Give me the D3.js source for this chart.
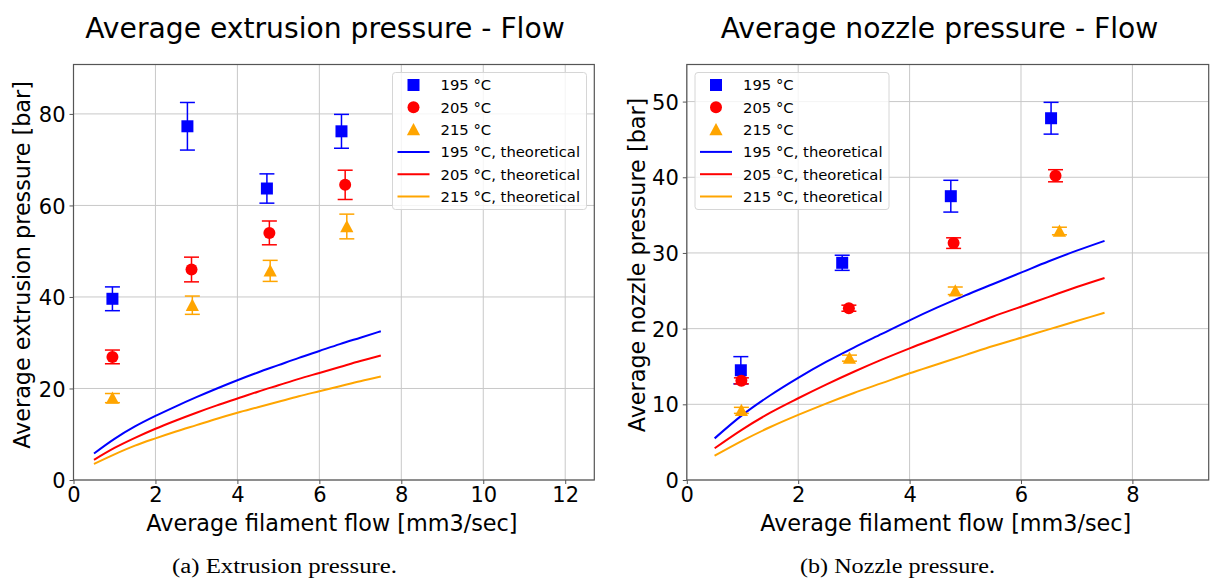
<!DOCTYPE html>
<html>
<head>
<meta charset="utf-8">
<script src="https://cdn.jsdelivr.net/npm/d3@7"></script>
<style>
  html, body { margin: 0; padding: 0; background: #fff; }
  svg { display: block; }
  text { fill: #000; }
</style>
</head>
<body>
<svg id="chart" width="1210" height="583"></svg>
<script>
// ---- measured data --------------------------------------------------------
const temps = ["195 °C", "205 °C", "215 °C"];
const colors = ["#0000ff", "#ff0000", "#ffa500"];
const shapes = ["square", "circle", "triangle"];

// Extrusion pressure (left panel)
const extFlow195 = [0.95, 2.78, 4.72, 6.54];
const extFlow205 = [0.95, 2.88, 4.78, 6.63];
const extFlow215 = [0.95, 2.90, 4.80, 6.67];
const extP195 = [39.6, 77.3, 63.7, 76.2];
const extP205 = [26.9, 46.0, 54.0, 64.5];
const extP215 = [17.9, 38.2, 45.7, 55.4];
const extErr195 = [2.6, 5.2, 3.2, 3.7];
const extErr205 = [1.5, 2.7, 2.6, 3.2];
const extErr215 = [1.0, 2.0, 2.3, 2.7];

// Nozzle pressure (right panel)
const nozFlow195 = [0.97, 2.79, 4.74, 6.54];
const nozFlow205 = [0.98, 2.91, 4.79, 6.62];
const nozFlow215 = [0.98, 2.92, 4.82, 6.69];
const nozP195 = [14.5, 28.7, 37.5, 47.8];
const nozP205 = [13.1, 22.7, 31.3, 40.2];
const nozP215 = [9.2, 16.1, 25.0, 32.9];
const nozErr195 = [1.8, 1.0, 2.1, 2.1];
const nozErr205 = [0.4, 0.4, 0.7, 0.8];
const nozErr215 = [0.4, 0.4, 0.5, 0.5];

// Theoretical curves, sampled flow values
const theoryFlow = [0.5, 1.0, 1.5, 2.0, 2.5, 3.0, 3.5, 4.0, 4.5, 5.0, 5.5, 6.0, 6.5, 7.0, 7.5];
const extTheory195 = [5.8, 9.0, 11.7, 14.0, 16.1, 18.1, 20.0, 21.8, 23.5, 25.1, 26.7, 28.2, 29.7, 31.1, 32.5];
const extTheory205 = [4.4, 7.0, 9.2, 11.2, 13.0, 14.7, 16.3, 17.8, 19.3, 20.7, 22.1, 23.4, 24.7, 26.0, 27.2];
const extTheory215 = [3.5, 5.6, 7.5, 9.1, 10.6, 12.0, 13.4, 14.7, 15.9, 17.1, 18.3, 19.4, 20.5, 21.6, 22.6];
const nozTheory195 = [5.5, 8.6, 11.2, 13.5, 15.6, 17.5, 19.3, 21.1, 22.8, 24.4, 25.9, 27.4, 28.9, 30.3, 31.6];
const nozTheory205 = [4.2, 6.7, 8.9, 10.8, 12.6, 14.3, 15.9, 17.4, 18.8, 20.2, 21.6, 22.9, 24.2, 25.5, 26.7];
const nozTheory215 = [3.2, 5.2, 7.0, 8.6, 10.1, 11.5, 12.8, 14.1, 15.3, 16.5, 17.7, 18.8, 19.9, 21.0, 22.1];

const extXTicks = [0, 2, 4, 6, 8, 10, 12];
const extYTicks = [0, 20, 40, 60, 80];
const nozXTicks = [0, 2, 4, 6, 8];
const nozYTicks = [0, 10, 20, 30, 40, 50];

// ---- drawing --------------------------------------------------------------
const SANS = "DejaVu Sans, sans-serif";
const svg = d3.select("#chart");

function markerPath(shape, size) {
  if (shape === "square") return d3.symbol(d3.symbolSquare, size * size)();
  if (shape === "circle") return d3.symbol(d3.symbolCircle, Math.PI * size * size / 4)();
  // triangle centred on its bounding box
  const h = size / 2;
  return `M0,${-h * 1.1}L${h * 1.1},${h * 0.95}L${-h * 1.1},${h * 0.95}Z`;
}

function drawPanel(cfg) {
  const g = svg.append("g");
  const x = d3.scaleLinear().domain(cfg.xDomain).range([cfg.left, cfg.right]);
  const y = d3.scaleLinear().domain(cfg.yDomain).range([cfg.bottom, cfg.top]);

  // grid
  g.append("g").selectAll("line").data(cfg.xTicks).join("line")
    .attr("x1", d => x(d)).attr("x2", d => x(d))
    .attr("y1", cfg.top).attr("y2", cfg.bottom)
    .attr("stroke", "#c8c8c8").attr("stroke-width", 1);
  g.append("g").selectAll("line").data(cfg.yTicks).join("line")
    .attr("x1", cfg.left).attr("x2", cfg.right)
    .attr("y1", d => y(d)).attr("y2", d => y(d))
    .attr("stroke", "#c8c8c8").attr("stroke-width", 1);

  // axes
  const xAxis = d3.axisBottom(x).tickValues(cfg.xTicks).tickSize(4).tickPadding(3).tickSizeOuter(0);
  const yAxis = d3.axisLeft(y).tickValues(cfg.yTicks).tickSize(4).tickPadding(4).tickSizeOuter(0);
  const gx = g.append("g").attr("transform", `translate(0,${cfg.bottom})`).call(xAxis);
  const gy = g.append("g").attr("transform", `translate(${cfg.left},0)`).call(yAxis);
  [gx, gy].forEach(a => {
    a.select(".domain").remove();
    a.selectAll("line").attr("stroke", "#555");
    a.attr("font-size", 21).attr("font-family", SANS);
    a.selectAll("text").attr("fill", "#000");
  });
  gx.selectAll("text").attr("dy", "0.71em");
  gy.selectAll("text").attr("dy", "0.36em");

  // theoretical curves
  const line = d3.line().x(d => x(d[0])).y(d => y(d[1])).curve(d3.curveMonotoneX);
  cfg.theory.forEach((vals, i) => {
    g.append("path")
      .datum(theoryFlow.map((f, j) => [f, vals[j]]))
      .attr("d", line).attr("fill", "none")
      .attr("stroke", colors[i]).attr("stroke-width", 2);
  });

  // measurements with error bars
  cfg.series.forEach((s, i) => {
    const pts = s.flow.map((f, j) => ({ f, p: s.p[j], e: s.err[j] }));
    const eg = g.append("g").attr("stroke", colors[i]).attr("stroke-width", 1.5);
    eg.selectAll("line.v").data(pts).join("line").attr("class", "v")
      .attr("x1", d => x(d.f)).attr("x2", d => x(d.f))
      .attr("y1", d => y(d.p - d.e)).attr("y2", d => y(d.p + d.e));
    eg.selectAll("line.t").data(pts).join("line").attr("class", "t")
      .attr("x1", d => x(d.f) - 7.5).attr("x2", d => x(d.f) + 7.5)
      .attr("y1", d => y(d.p + d.e)).attr("y2", d => y(d.p + d.e));
    eg.selectAll("line.b").data(pts).join("line").attr("class", "b")
      .attr("x1", d => x(d.f) - 7.5).attr("x2", d => x(d.f) + 7.5)
      .attr("y1", d => y(d.p - d.e)).attr("y2", d => y(d.p - d.e));
    g.append("g").selectAll("path").data(pts).join("path")
      .attr("d", markerPath(shapes[i], 12))
      .attr("transform", d => `translate(${x(d.f)},${y(d.p)})`)
      .attr("fill", colors[i]);
  });

  // frame
  g.append("rect")
    .attr("x", cfg.left).attr("y", cfg.top)
    .attr("width", cfg.right - cfg.left).attr("height", cfg.bottom - cfg.top)
    .attr("fill", "none").attr("stroke", "#555").attr("stroke-width", 1.2);

  // titles and labels
  g.append("text").attr("x", cfg.titleX).attr("y", 37.5)
    .attr("text-anchor", "middle").style("font-family", SANS).style("font-size", "28.2px")
    .text(cfg.title);
  g.append("text").attr("x", (cfg.left + cfg.right) / 2 - 2).attr("y", 531)
    .attr("text-anchor", "middle").style("font-family", SANS).style("font-size", "22.3px")
    .text("Average filament flow [mm3/sec]");
  g.append("text")
    .attr("transform", `translate(${cfg.yLabelX},${cfg.yLabelY}) rotate(-90)`)
    .attr("text-anchor", "middle").attr("dy", "0.36em")
    .style("font-family", SANS).style("font-size", "22.3px").text(cfg.yLabel);

  // legend
  const lg = g.append("g").attr("transform", `translate(${cfg.legendX},72.5)`);
  lg.append("rect").attr("width", 194).attr("height", 137).attr("rx", 3)
    .attr("fill", "#fff").attr("fill-opacity", 0.8)
    .attr("stroke", "#d6d6d6").attr("stroke-width", 1);
  const rowY = k => 12.5 + k * 22.3;
  temps.forEach((t, i) => {
    lg.append("path").attr("d", markerPath(shapes[i], 12))
      .attr("transform", `translate(21,${rowY(i)})`).attr("fill", colors[i]);
    lg.append("text").attr("x", 48).attr("y", rowY(i)).attr("dy", "0.36em")
      .style("font-family", SANS).style("font-size", "14.8px").text(t);
  });
  temps.forEach((t, i) => {
    const yy = rowY(i + 3);
    lg.append("line").attr("x1", 5).attr("x2", 37).attr("y1", yy).attr("y2", yy)
      .attr("stroke", colors[i]).attr("stroke-width", 2);
    lg.append("text").attr("x", 48).attr("y", yy).attr("dy", "0.36em")
      .style("font-family", SANS).style("font-size", "14.8px").text(t + ", theoretical");
  });

  // caption
  svg.append("text").attr("x", cfg.captionX).attr("y", 573)
    .attr("text-anchor", "middle")
    .style("font-family", "Liberation Serif, serif").style("font-size", "20px")
    .attr("textLength", cfg.captionLen).attr("lengthAdjust", "spacingAndGlyphs")
    .text(cfg.caption);
}

drawPanel({
  left: 73.5, right: 594.3, top: 64.5, bottom: 480,
  xDomain: [0, 12.71], yDomain: [0, 90.8],
  xTicks: extXTicks, yTicks: extYTicks,
  title: "Average extrusion pressure - Flow", titleX: 325,
  yLabel: "Average extrusion pressure [bar]", yLabelX: 22, yLabelY: 265,
  legendX: 392.5,
  series: [
    { flow: extFlow195, p: extP195, err: extErr195 },
    { flow: extFlow205, p: extP205, err: extErr205 },
    { flow: extFlow215, p: extP215, err: extErr215 }
  ],
  theory: [extTheory195, extTheory205, extTheory215],
  caption: "(a) Extrusion pressure.", captionX: 284.5, captionLen: 225
});

drawPanel({
  left: 686.8, right: 1208.7, top: 64.5, bottom: 480,
  xDomain: [0, 9.37], yDomain: [0, 54.9],
  xTicks: nozXTicks, yTicks: nozYTicks,
  title: "Average nozzle pressure - Flow", titleX: 939.5,
  yLabel: "Average nozzle pressure [bar]", yLabelX: 637, yLabelY: 265,
  legendX: 695,
  series: [
    { flow: nozFlow195, p: nozP195, err: nozErr195 },
    { flow: nozFlow205, p: nozP205, err: nozErr205 },
    { flow: nozFlow215, p: nozP215, err: nozErr215 }
  ],
  theory: [nozTheory195, nozTheory205, nozTheory215],
  caption: "(b) Nozzle pressure.", captionX: 897.5, captionLen: 195
});
</script>
</body>
</html>
